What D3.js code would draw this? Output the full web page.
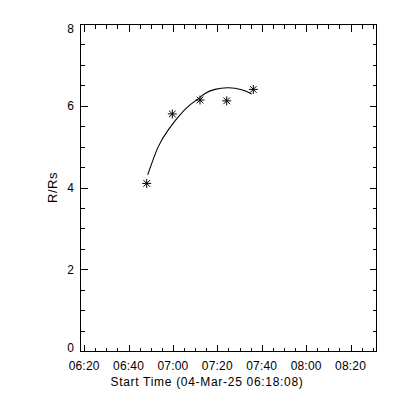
<!DOCTYPE html>
<html><head><meta charset="utf-8">
<script src="https://cdn.jsdelivr.net/npm/d3@7/dist/d3.min.js"></script>
<style>
html,body{margin:0;padding:0;background:#fff;}
text{font-family:"Liberation Sans",Arial,sans-serif;font-size:12px;fill:#000;}
</style></head><body>
<svg id="c" width="400" height="400"></svg>
<script>
// Data (x in seconds after start time 04-Mar-25 06:18:08)
const startLabel = "Start Time (04-Mar-25 06:18:08)";
const pointTimes = [1803, 2495, 3243, 3965, 4684];
const pointR = [4.10, 5.80, 6.14, 6.12, 6.40];
const fitTimes = [1830, 2116, 2386, 2657, 2973, 3243, 3378, 3649, 4008, 4370, 4641];
const fitR = [4.31, 5.00, 5.41, 5.73, 6.02, 6.20, 6.30, 6.40, 6.44, 6.39, 6.29];
const xMajorTicks = [112, 1312, 2512, 3712, 4912, 6112, 7312];
const xTickLabels = ["06:20", "06:40", "07:00", "07:20", "07:40", "08:00", "08:20"];
const yMajorTicks = [0, 2, 4, 6, 8];
const xDomain = [0, 8000];
const yDomain = [0, 8];

const L = 80, R = 376, T = 24, B = 351;
const svg = d3.select("#c");
svg.append("rect").attr("width",400).attr("height",400).attr("fill","#fff");
const x = d3.scaleLinear().domain(xDomain).range([L, R]);
const y = d3.scaleLinear().domain(yDomain).range([B, T]);

const g = svg.append("g").attr("shape-rendering","crispEdges");
g.append("rect").attr("x",L+0.5).attr("y",T+0.5).attr("width",R-L).attr("height",B-T)
  .attr("fill","none").attr("stroke","#000").attr("stroke-width",1);

const xMinor = [];
for (let t = xMajorTicks[0] - 1200; t <= xDomain[1]; t += 300) if (t >= xDomain[0]) xMinor.push(t);
xMinor.forEach(t => {
  const major = xMajorTicks.includes(t);
  const len = major ? 7 : 4;
  const px = Math.round(x(t)) + 0.5;
  g.append("line").attr("x1",px).attr("x2",px).attr("y1",B+0.5).attr("y2",B+0.5-len).attr("stroke","#000");
  g.append("line").attr("x1",px).attr("x2",px).attr("y1",T+0.5).attr("y2",T+0.5+len).attr("stroke","#000");
});
const yMinor = d3.range(yDomain[0], yDomain[1] + 0.001, 0.5);
yMinor.forEach(v => {
  const major = yMajorTicks.includes(v);
  const len = major ? 7 : 4;
  const py = Math.round(y(v)) + 0.5;
  g.append("line").attr("x1",L+0.5).attr("x2",L+0.5+len).attr("y1",py).attr("y2",py).attr("stroke","#000");
  g.append("line").attr("x1",R+0.5).attr("x2",R+0.5-len).attr("y1",py).attr("y2",py).attr("stroke","#000");
});

xMajorTicks.forEach((t,i) => {
  svg.append("text").attr("x",x(t)).attr("y",370).attr("text-anchor","middle")
    .style("letter-spacing","0.2px").text(xTickLabels[i]);
});
svg.append("text").attr("x",207).attr("y",386).attr("text-anchor","middle")
  .style("letter-spacing","0.7px").text(startLabel);

yMajorTicks.forEach(v => {
  const py = Math.min(Math.max(y(v), 28), 347);
  svg.append("text").attr("x",74).attr("y",py+4.5).attr("text-anchor","end").text(String(v));
});
svg.append("text").attr("transform",`translate(57,${(T+B)/2}) rotate(-90)`).attr("text-anchor","middle")
  .style("font-size","13px").style("letter-spacing","0.5px").text("R/Rs");

const line = d3.line().x(d=>x(d[0])).y(d=>y(d[1])).curve(d3.curveNatural);
svg.append("path").attr("d", line(fitTimes.map((t,i)=>[t,fitR[i]])))
  .attr("fill","none").attr("stroke","#000").attr("stroke-width",1.1);

const s = 4.5, d = 3.3;
pointTimes.forEach((t,i) => {
  const cx = x(t), cy = y(pointR[i]);
  const p = `M${cx-s},${cy}L${cx+s},${cy}M${cx},${cy-s}L${cx},${cy+s}M${cx-d},${cy-d}L${cx+d},${cy+d}M${cx-d},${cy+d}L${cx+d},${cy-d}`;
  svg.append("path").attr("d",p).attr("stroke","#000").attr("stroke-width",1).attr("fill","none");
});
</script></body></html>
